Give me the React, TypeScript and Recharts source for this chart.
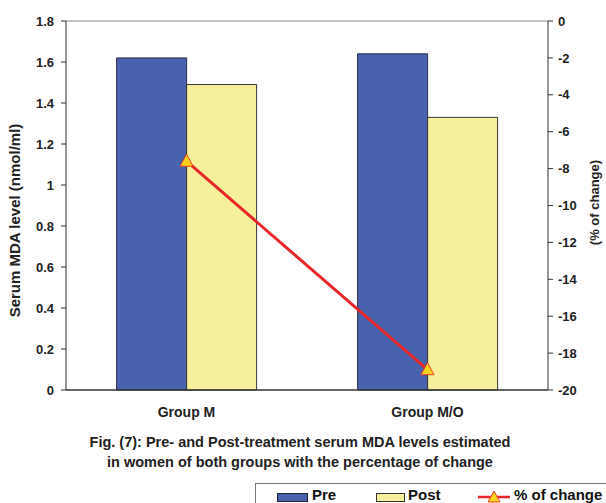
import {
  ComposedChart, Bar, Line, XAxis, YAxis, Legend
} from 'recharts';

const groups = ['Group M', 'Group M/O'];
const pre = [1.62, 1.64];
const post = [1.49, 1.33];
const change = [-7.6, -18.9];

const leftTicks = [0, 0.2, 0.4, 0.6, 0.8, 1, 1.2, 1.4, 1.6, 1.8];
const rightTicks = [0, -2, -4, -6, -8, -10, -12, -14, -16, -18, -20];
const edgeTicks = [0, 1, 2];

const data = groups.map((g, i) => ({ group: g, pre: pre[i], post: post[i], change: change[i] }));

const font = 'Arial, "Liberation Sans", sans-serif';
const tickStyle = { fontFamily: font, fontSize: 13, fontWeight: 700, fill: '#222' };

const Triangle = (props: any) => {
  const { cx, cy } = props;
  if (cx == null || cy == null) return null;
  return (
    <path
      d={`M${cx},${cy - 7} L${cx + 6.5},${cy + 5} L${cx - 6.5},${cy + 5} Z`}
      fill="#FFD21F"
      stroke="#F04020"
      strokeWidth={1}
    />
  );
};

const LegendBox = () => (
  <div style={{
    border: '1px solid #777', borderRight: 'none', width: 360, height: 30,
    boxSizing: 'border-box', fontFamily: font, fontWeight: 700, fontSize: 15, color: '#111',
    position: 'relative'
  }}>
    <div style={{ position: 'absolute', left: 21, top: 9, width: 29, height: 7, background: '#4862AD', border: '1px solid #223' }} />
    <span style={{ position: 'absolute', left: 56, top: 2 }}>Pre</span>
    <div style={{ position: 'absolute', left: 120, top: 9, width: 27, height: 7, background: '#F6F09C', border: '1px solid #333' }} />
    <span style={{ position: 'absolute', left: 152, top: 2 }}>Post</span>
    <svg style={{ position: 'absolute', left: 222, top: 4 }} width={32} height={18}>
      <line x1={0} y1={9} x2={32} y2={9} stroke="#E8262A" strokeWidth={2.5} />
      <path d="M16,3 L22,14 L10,14 Z" fill="#FFD21F" stroke="#F04020" strokeWidth={1} />
    </svg>
    <span style={{ position: 'absolute', left: 258, top: 2 }}>% of change</span>
  </div>
);

const App = () => {
  return (
    <div style={{ position: 'relative', width: 606, height: 503, background: '#fff', overflow: 'hidden' }}>
      <style>{'body{margin:0}'}</style>
      <ComposedChart
        width={606}
        height={503}
        data={data}
        margin={{ top: 21, right: 0, left: 0, bottom: 0 }}
        barGap={0}
        barCategoryGap="21%"
      >
        <XAxis
          xAxisId="edge"
          type="number"
          domain={[0, 2]}
          ticks={edgeTicks}
          tick={false}
          height={0}
          tickSize={5}
          axisLine={false}
          stroke="#333"
        />
        <XAxis
          dataKey="group"
          height={113}
          tickLine={false}
          axisLine={{ stroke: '#333', strokeWidth: 1.5 }}
          tickMargin={11}
          tick={{ ...tickStyle, fontSize: 14 }}
        />
        <YAxis
          yAxisId="left"
          width={66}
          domain={[0, 1.8]}
          ticks={leftTicks}
          interval={0}
          tickSize={5}
          tickMargin={7}
          stroke="#333"
          tick={tickStyle}
          label={{
            value: 'Serum MDA level (nmol/ml)', angle: -90, position: 'insideLeft', offset: 15, dy: 15,
            style: { textAnchor: 'middle', fontFamily: font, fontSize: 15, fontWeight: 700, fill: '#222' }
          }}
        />
        <YAxis
          yAxisId="right"
          orientation="right"
          width={58}
          domain={[-20, 0]}
          ticks={rightTicks}
          interval={0}
          tickSize={5}
          tickMargin={5}
          stroke="#333"
          tick={tickStyle}
          label={{
            value: '(% of change)', angle: -90, position: 'insideRight', offset: 12, dy: -3,
            style: { textAnchor: 'middle', fontFamily: font, fontSize: 13, fontWeight: 700, fill: '#222' }
          }}
        />
        <Legend
          layout="horizontal"
          verticalAlign="middle"
          align="center"
          wrapperStyle={{ left: 255, top: 483, width: 360 }}
          content={() => <LegendBox />}
        />
        <Bar yAxisId="left" dataKey="pre" name="Pre" fill="#4862AD" stroke="#2a2f45" strokeWidth={1} isAnimationActive={false} />
        <Bar yAxisId="left" dataKey="post" name="Post" fill="#F6F09C" stroke="#333" strokeWidth={1} isAnimationActive={false} />
        <Line
          yAxisId="right"
          dataKey="change"
          name="% of change"
          stroke="#E8262A"
          strokeWidth={3}
          dot={<Triangle />}
          activeDot={false}
          isAnimationActive={false}
        />
      </ComposedChart>
      <svg style={{ position: 'absolute', left: 0, top: 0, pointerEvents: 'none' }} width={606} height={30}>
        <line x1={66} y1={21} x2={548} y2={21} stroke="#888" strokeWidth={1} />
      </svg>
      <div style={{
        position: 'absolute', left: 0, top: 432, width: 600, textAlign: 'center',
        fontFamily: font, fontWeight: 700, fontSize: 14.5, lineHeight: '20px', color: '#222'
      }}>
        Fig. (7): Pre- and Post-treatment serum MDA levels estimated<br />
        in women of both groups with the percentage of change
      </div>
    </div>
  );
};

export default App;
